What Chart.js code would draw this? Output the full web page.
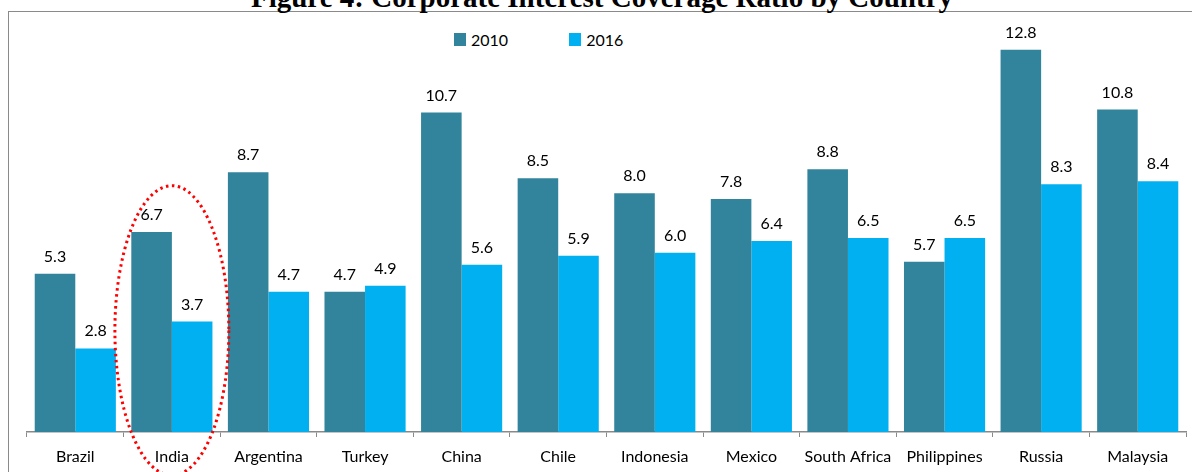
<!DOCTYPE html>
<html>
<head>
<meta charset="utf-8">
<script src="https://cdn.jsdelivr.net/npm/chart.js@4"></script>
<style>
  body { margin: 0; background: #fff; overflow: hidden; }
  #wrap { position: relative; width: 1192px; height: 472px; }
  #frame { position: absolute; left: 8px; top: 11px; width: 1300px; height: 600px; border: 1.5px solid #8a8a8a; }
  #title { position: absolute; left: 0; width: 1204px; top: -17px; text-align: center; font: bold 29px "Liberation Serif", "Times New Roman", serif; line-height: 1; color: #000; white-space: nowrap; }
  #legend { position: absolute; top: 30px; left: 454px; font: 16px Lato, sans-serif; color: #000; display: flex; }
  .item { display: flex; align-items: center; margin-right: 61px; }
  .swatch { width: 12px; height: 13px; margin-right: 5px; }
  canvas { position: absolute; left: 0; top: 0; }
</style>
</head>
<body>
<div id="wrap">
  <div id="frame"></div>
  <div id="title">Figure 4: Corporate Interest Coverage Ratio by Country</div>
  <div id="legend"></div>
  <canvas id="chart" width="1192" height="472"></canvas>
</div>
<script>
const countries = ["Brazil", "India", "Argentina", "Turkey", "China", "Chile", "Indonesia", "Mexico", "South Africa", "Philippines", "Russia", "Malaysia"];
const values2010 = [5.3, 6.7, 8.7, 4.7, 10.7, 8.5, 8.0, 7.8, 8.8, 5.7, 12.8, 10.8];
const values2016 = [2.8, 3.7, 4.7, 4.9, 5.6, 5.9, 6.0, 6.4, 6.5, 6.5, 8.3, 8.4];
const seriesNames = ["2010", "2016"];
const seriesColors = ["#31849b", "#00b0f0"];

// bar value labels above each bar
const valueLabels = {
  id: "valueLabels",
  afterDatasetsDraw(chart) {
    const ctx = chart.ctx;
    ctx.save();
    ctx.font = "16px Lato, sans-serif";
    ctx.fillStyle = "#000";
    ctx.textAlign = "center";
    ctx.textBaseline = "alphabetic";
    chart.data.datasets.forEach((ds, i) => {
      chart.getDatasetMeta(i).data.forEach((bar, j) => {
        ctx.fillText(ds.data[j].toFixed(1), bar.x, bar.y - 12);
      });
    });
    ctx.restore();
  },
};

// red dotted ellipse highlighting India
const highlight = {
  id: "highlight",
  afterDraw(chart) {
    const x = chart.scales.x;
    const y = chart.scales.y;
    const idx = countries.indexOf("India");
    const cx = x.getPixelForValue(idx);
    const rx = (x.getPixelForValue(1) - x.getPixelForValue(0)) * 0.59;
    const top = y.getPixelForValue(8.25);
    const bottom = y.getPixelForValue(-1.45);
    const ctx = chart.ctx;
    ctx.save();
    ctx.strokeStyle = "#ff0000";
    ctx.lineWidth = 3;
    ctx.setLineDash([2.5, 3.5]);
    ctx.beginPath();
    ctx.ellipse(cx, (top + bottom) / 2, rx, (bottom - top) / 2, 0, 0, Math.PI * 2);
    ctx.stroke();
    ctx.restore();
  },
};

const legendBox = document.getElementById("legend");
seriesNames.forEach((name, i) => {
  const item = document.createElement("div");
  item.className = "item";
  item.innerHTML = '<span class="swatch" style="background:' + seriesColors[i] + '"></span>' + name;
  legendBox.appendChild(item);
});

new Chart(document.getElementById("chart").getContext("2d"), {
  type: "bar",
  data: {
    labels: countries,
    datasets: [
      { label: seriesNames[0], data: values2010, backgroundColor: seriesColors[0] },
      { label: seriesNames[1], data: values2016, backgroundColor: seriesColors[1] },
    ],
  },
  options: {
    responsive: false,
    animation: false,
    categoryPercentage: 0.84,
    barPercentage: 1,
    layout: { padding: { left: 27, right: 6, top: 14, bottom: 0 } },
    plugins: {
      legend: { display: false },
      tooltip: { enabled: false },
    },
    scales: {
      x: {
        grid: { drawOnChartArea: false, tickLength: 5, color: "#8a8a8a", offset: true },
        border: { color: "#8a8a8a", width: 1.5 },
        ticks: { color: "#000", font: { family: "Lato", size: 16 }, padding: 10, maxRotation: 0, autoSkip: false },
        afterFit: (scale) => { scale.height = 40; },
      },
      y: {
        display: false,
        min: 0,
        max: 14,
      },
    },
  },
  plugins: [valueLabels, highlight],
});
</script>
</body>
</html>
